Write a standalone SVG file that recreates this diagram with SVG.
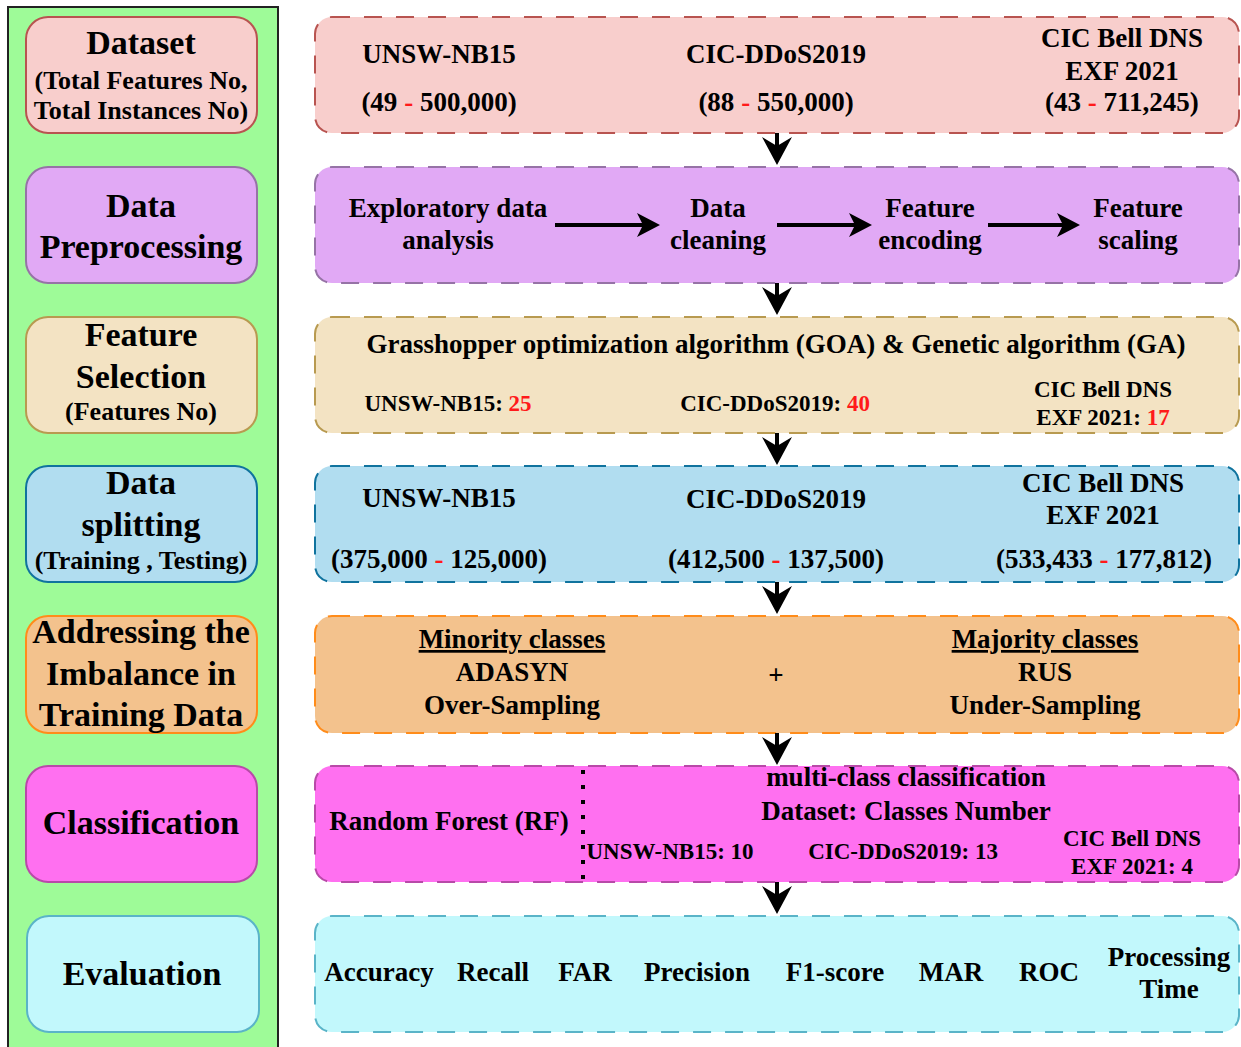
<svg xmlns="http://www.w3.org/2000/svg" width="1241" height="1047" viewBox="0 0 1241 1047">
<defs>
<style>
text{font-family:"Liberation Serif","Times New Roman",serif;font-weight:bold;fill:#000;text-anchor:middle}
.h{font-size:34px}
.s{font-size:26px}
.m{font-size:27px}
.sm{font-size:23px}
.r{fill:#ff1a1a}
.st{stroke-width:2}
.dash{stroke-width:2;stroke-dasharray:18 14}
.conn{stroke:#000;stroke-width:4;fill:none}
</style>
<marker id="arr" viewBox="0 0 28 30" refX="9" refY="15" markerWidth="28" markerHeight="30" markerUnits="userSpaceOnUse" orient="auto">
<path d="M0,0 L28,15 L0,30 L9,15 z" fill="#000"/>
</marker>
<marker id="arr2" viewBox="0 0 23 24" refX="6" refY="12" markerWidth="23" markerHeight="24" markerUnits="userSpaceOnUse" orient="auto">
<path d="M0,0 L23,12 L0,24 L6,12 z" fill="#000"/>
</marker>
</defs>
<rect width="1241" height="1047" fill="#fff"/>

<g id="stages">
<rect x="8" y="7" width="270" height="1050" fill="#9efb98" stroke="#222" stroke-width="2"/>
</g>

<g id="stage-dataset">
<rect x="26" y="17" width="231" height="116" rx="22" fill="#f8cecc" stroke="#b85450" class="st"/>
<text class="h" x="141" y="54">Dataset</text>
<text class="s" x="141" y="89">(Total Features No,</text>
<text class="s" x="141" y="119">Total Instances No)</text>
</g>
<g id="stage-preprocessing">
<rect x="26" y="167" width="231" height="116" rx="22" fill="#e1a9f5" stroke="#9673a6" class="st"/>
<text class="h" x="141" y="217">Data</text>
<text class="h" x="141" y="258">Preprocessing</text>
</g>
<g id="stage-selection">
<rect x="26" y="317" width="231" height="116" rx="22" fill="#f3e3c3" stroke="#b89a50" class="st"/>
<text class="h" x="141" y="346">Feature</text>
<text class="h" x="141" y="388">Selection</text>
<text class="s" x="141" y="420">(Features No)</text>
</g>
<g id="stage-splitting">
<rect x="26" y="466" width="231" height="116" rx="22" fill="#b1ddf0" stroke="#10739e" class="st"/>
<text class="h" x="141" y="494">Data</text>
<text class="h" x="141" y="536">splitting</text>
<text class="s" x="141" y="569">(Training , Testing)</text>
</g>
<g id="stage-imbalance">
<rect x="26" y="616" width="231" height="117" rx="22" fill="#f3c28d" stroke="#ff8c1a" class="st"/>
<text class="h" x="141" y="643">Addressing the</text>
<text class="h" x="141" y="685">Imbalance in</text>
<text class="h" x="141" y="726">Training Data</text>
</g>
<g id="stage-classification">
<rect x="26" y="766" width="231" height="116" rx="22" fill="#ff70f0" stroke="#b84aa8" class="st"/>
<text class="h" x="141" y="834">Classification</text>
</g>
<g id="stage-evaluation">
<rect x="27" y="916" width="232" height="116" rx="22" fill="#c2f8fc" stroke="#5ab4c8" class="st"/>
<text class="h" x="142" y="985">Evaluation</text>
</g>

<g id="box-dataset">
<rect x="315" y="17" width="924" height="116" rx="17" fill="#f8cecc" stroke="#b85450" class="dash"/>
<text class="m" x="439" y="63">UNSW-NB15</text>
<text class="m" x="439" y="111">(49 <tspan class="r">-</tspan> 500,000)</text>
<text class="m" x="776" y="63">CIC-DDoS2019</text>
<text class="m" x="776" y="111">(88 <tspan class="r">-</tspan> 550,000)</text>
<text class="m" x="1122" y="47">CIC Bell DNS</text>
<text class="m" x="1122" y="80">EXF 2021</text>
<text class="m" x="1122" y="111">(43 <tspan class="r">-</tspan> 711,245)</text>
</g>
<g id="box-preprocessing">
<rect x="315" y="167" width="924" height="116" rx="17" fill="#e1a9f5" stroke="#9673a6" class="dash"/>
<text class="m" x="448" y="217">Exploratory data</text>
<text class="m" x="448" y="249">analysis</text>
<text class="m" x="718" y="217">Data</text>
<text class="m" x="718" y="249">cleaning</text>
<text class="m" x="930" y="217">Feature</text>
<text class="m" x="930" y="249">encoding</text>
<text class="m" x="1138" y="217">Feature</text>
<text class="m" x="1138" y="249">scaling</text>
</g>
<g id="box-selection">
<rect x="315" y="317" width="924" height="116" rx="17" fill="#f3e3c3" stroke="#b89a50" class="dash"/>
<text class="m" x="776" y="353">Grasshopper optimization algorithm (GOA) &amp; Genetic algorithm (GA)</text>
<text class="sm" x="448" y="411">UNSW-NB15: <tspan class="r">25</tspan></text>
<text class="sm" x="775" y="411">CIC-DDoS2019: <tspan class="r">40</tspan></text>
<text class="sm" x="1103" y="397">CIC Bell DNS</text>
<text class="sm" x="1103" y="425">EXF 2021: <tspan class="r">17</tspan></text>
</g>
<g id="box-splitting">
<rect x="315" y="466" width="924" height="116" rx="17" fill="#b1ddf0" stroke="#10739e" class="dash"/>
<text class="m" x="439" y="507">UNSW-NB15</text>
<text class="m" x="776" y="508">CIC-DDoS2019</text>
<text class="m" x="1103" y="492">CIC Bell DNS</text>
<text class="m" x="1103" y="524">EXF 2021</text>
<text class="m" x="439" y="568">(375,000 <tspan class="r">-</tspan> 125,000)</text>
<text class="m" x="776" y="568">(412,500 <tspan class="r">-</tspan> 137,500)</text>
<text class="m" x="1104" y="568">(533,433 <tspan class="r">-</tspan> 177,812)</text>
</g>
<g id="box-imbalance">
<rect x="315" y="616" width="924" height="117" rx="17" fill="#f3c28d" stroke="#ff8c1a" class="dash"/>
<text class="m" x="512" y="648" text-decoration="underline">Minority classes</text>
<text class="m" x="512" y="681">ADASYN</text>
<text class="m" x="512" y="714">Over-Sampling</text>
<text class="m" x="776" y="684">+</text>
<text class="m" x="1045" y="648" text-decoration="underline">Majority classes</text>
<text class="m" x="1045" y="681">RUS</text>
<text class="m" x="1045" y="714">Under-Sampling</text>
</g>
<g id="box-classification">
<rect x="315" y="766" width="924" height="116" rx="17" fill="#ff70f0" stroke="#b84aa8" class="dash"/>
<line x1="583" y1="770" x2="583" y2="882" stroke="#000" stroke-width="4" stroke-dasharray="4 11"/>
<text class="m" x="449" y="830">Random Forest (RF)</text>
<text class="m" x="906" y="786">multi-class classification</text>
<text class="m" x="906" y="820">Dataset: Classes Number</text>
<text class="sm" x="670" y="859">UNSW-NB15: 10</text>
<text class="sm" x="903" y="859">CIC-DDoS2019: 13</text>
<text class="sm" x="1132" y="846">CIC Bell DNS</text>
<text class="sm" x="1132" y="874">EXF 2021: 4</text>
</g>
<g id="box-evaluation">
<rect x="315" y="916" width="924" height="116" rx="17" fill="#c2f8fc" stroke="#5ab4c8" class="dash"/>
<text class="m" x="379" y="981">Accuracy</text>
<text class="m" x="493" y="981">Recall</text>
<text class="m" x="585" y="981">FAR</text>
<text class="m" x="697" y="981">Precision</text>
<text class="m" x="835" y="981">F1-score</text>
<text class="m" x="951" y="981">MAR</text>
<text class="m" x="1049" y="981">ROC</text>
<text class="m" x="1169" y="966">Processing</text>
<text class="m" x="1169" y="998">Time</text>
</g>

<g id="connectors">
<line class="conn" x1="777" y1="133" x2="777" y2="146" marker-end="url(#arr)"/>
<line class="conn" x1="777" y1="283" x2="777" y2="296" marker-end="url(#arr)"/>
<line class="conn" x1="777" y1="433" x2="777" y2="446" marker-end="url(#arr)"/>
<line class="conn" x1="777" y1="582" x2="777" y2="595" marker-end="url(#arr)"/>
<line class="conn" x1="777" y1="733" x2="777" y2="746" marker-end="url(#arr)"/>
<line class="conn" x1="777" y1="882" x2="777" y2="895" marker-end="url(#arr)"/>
<line class="conn" x1="555" y1="225" x2="643" y2="225" marker-end="url(#arr2)"/>
<line class="conn" x1="777" y1="225" x2="855" y2="225" marker-end="url(#arr2)"/>
<line class="conn" x1="988" y1="225" x2="1063" y2="225" marker-end="url(#arr2)"/>
</g>
</svg>
